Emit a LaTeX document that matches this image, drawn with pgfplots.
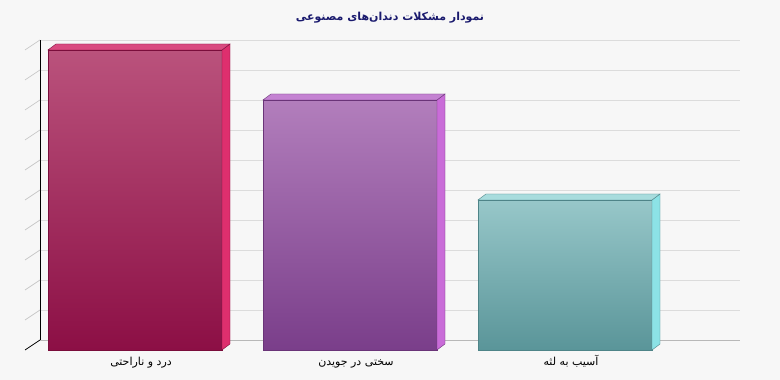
\documentclass[border=0pt]{standalone}
\usepackage{pgfplots}
\pgfplotsset{compat=1.18}
\usepackage{fontspec}
\setmainfont{DejaVu Sans}
\newfontfamily\arabicfont[Script=Arabic]{DejaVu Sans}
\TeXXeTstate=1
\definecolor{bgcol}{HTML}{F7F7F7}
\definecolor{gridcol}{HTML}{DCDCDC}
\definecolor{floorcol}{HTML}{B8B8B8}
\definecolor{tickcol}{HTML}{C8C8C8}
\definecolor{titlecol}{HTML}{1A1A6E}
% bar 1
\definecolor{aTop}{HTML}{BA527C}
\definecolor{aBot}{HTML}{8C0F45}
\definecolor{aSide}{HTML}{DE2F6E}
\definecolor{aLid}{HTML}{D94A80}
\definecolor{aEdge}{HTML}{7A0D3B}
% bar 2
\definecolor{bTop}{HTML}{B27EBC}
\definecolor{bBot}{HTML}{7A3E8A}
\definecolor{bSide}{HTML}{C96CD8}
\definecolor{bLid}{HTML}{C482D2}
\definecolor{bEdge}{HTML}{6A3478}
% bar 3
\definecolor{cTop}{HTML}{97C7C9}
\definecolor{cBot}{HTML}{5A9599}
\definecolor{cSide}{HTML}{8CE2E6}
\definecolor{cLid}{HTML}{A8DCDD}
\definecolor{cEdge}{HTML}{4E8488}
\begin{document}
\begin{tikzpicture}
\fill[bgcol] (0,0) rectangle (780pt,380pt);
\begin{axis}[
  at={(40pt,40pt)}, anchor=south west,
  scale only axis, width=700pt, height=300pt,
  xmin=-0.51163, xmax=2.74419, ymin=0, ymax=60,
  clip=false,
  axis x line*=bottom, axis y line*=left,
  x axis line style={draw=floorcol, line width=0.8pt},
  y axis line style={draw=black, line width=0.8pt},
  ytick={0,6,...,60}, yticklabels={},
  ymajorgrids, major grid style={draw=gridcol, line width=0.8pt},
  tick style={draw=none}, major tick length=0pt,
  xtick={0,1,2},
  xticklabels={{\beginR درد و ناراحتی\endR},{\beginR سختی در جویدن\endR},{\beginR آسیب به لثه\endR}},
  xticklabel style={anchor=base, yshift=-26pt, xshift=-9pt, font=\arabicfont\fontsize{11}{13}\selectfont, text=black},
  title={\beginR نمودار مشکلات دندان‌های مصنوعی\endR},
  title style={at={(0.5,1)}, anchor=center, yshift=16pt, font=\arabicfont\bfseries\fontsize{11}{13}\selectfont, text=titlecol},
]
% slanted tick marks on the left wall
\pgfplotsinvokeforeach{6,12,...,60}{\draw[tickcol, line width=0.7pt] (axis cs:-0.51163,#1) -- ++(-15pt,-10pt);}
\draw[black, line width=0.7pt] (axis cs:-0.51163,0) -- ++(-15pt,-10pt);

% ---- bar 1: 60
\addplot[ybar, bar width=174pt, bar shift=0pt, xshift=-15pt, yshift=-10pt, draw=aEdge, line width=0.5pt, top color=aTop, bottom color=aBot] coordinates {(0,60)};
\addplot[xshift=-15pt, yshift=-10pt, fill=aSide, draw=aEdge, line width=0.4pt] coordinates {(0.40465,0) (0.44186,1.2) (0.44186,61.2) (0.40465,60)} -- cycle;
\addplot[xshift=-15pt, yshift=-10pt, fill=aLid, draw=aEdge, line width=0.4pt] coordinates {(-0.40465,60) (0.40465,60) (0.44186,61.2) (-0.36744,61.2)} -- cycle;

% ---- bar 2: 50
\addplot[ybar, bar width=174pt, bar shift=0pt, xshift=-15pt, yshift=-10pt, draw=bEdge, line width=0.5pt, top color=bTop, bottom color=bBot] coordinates {(1,50)};
\addplot[xshift=-15pt, yshift=-10pt, fill=bSide, draw=bEdge, line width=0.4pt] coordinates {(1.40465,0) (1.44186,1.2) (1.44186,51.2) (1.40465,50)} -- cycle;
\addplot[xshift=-15pt, yshift=-10pt, fill=bLid, draw=bEdge, line width=0.4pt] coordinates {(0.59535,50) (1.40465,50) (1.44186,51.2) (0.63256,51.2)} -- cycle;

% ---- bar 3: 30
\addplot[ybar, bar width=174pt, bar shift=0pt, xshift=-15pt, yshift=-10pt, draw=cEdge, line width=0.5pt, top color=cTop, bottom color=cBot] coordinates {(2,30)};
\addplot[xshift=-15pt, yshift=-10pt, fill=cSide, draw=cEdge, line width=0.4pt] coordinates {(2.40465,0) (2.44186,1.2) (2.44186,31.2) (2.40465,30)} -- cycle;
\addplot[xshift=-15pt, yshift=-10pt, fill=cLid, draw=cEdge, line width=0.4pt] coordinates {(1.59535,30) (2.40465,30) (2.44186,31.2) (1.63256,31.2)} -- cycle;
\end{axis}
\end{tikzpicture}
\end{document}
